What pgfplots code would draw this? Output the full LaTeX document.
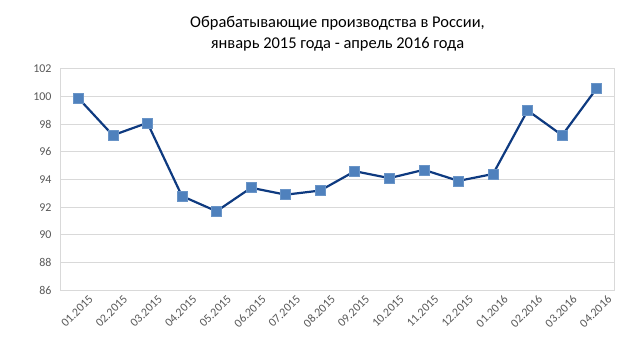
\documentclass[border=0pt]{standalone}
\usepackage{pgfplots}
\pgfplotsset{compat=1.18}
\usepackage{fontspec}
\setmainfont{Carlito}
\definecolor{gridc}{HTML}{D9D9D9}
\definecolor{tickc}{HTML}{595959}
\definecolor{linec}{HTML}{0E3A80}
\definecolor{markc}{HTML}{4F81BD}
\begin{document}
\begin{tikzpicture}
\path[use as bounding box] (-61bp,-73bp) rectangle (579bp,290bp);
\begin{axis}[
  at={(0,0)}, anchor=south west,
  scale only axis, width=553bp, height=221bp,
  xmin=-0.5, xmax=15.5, ymin=86, ymax=102,
  ytick={86,88,...,102},
  xtick={0,...,15},
  xticklabels={01.2015,02.2015,03.2015,04.2015,05.2015,06.2015,07.2015,08.2015,09.2015,10.2015,11.2015,12.2015,01.2016,02.2016,03.2016,04.2016},
  x tick label style={rotate=45, anchor=north east, font=\fontsize{12}{14}\selectfont, text=tickc, inner sep=1pt, xshift=5bp, yshift=-9bp},
  y tick label style={font=\fontsize{12}{14}\selectfont, text=tickc, xshift=-6bp},
  /pgf/number format/assume math mode=true,
  major tick length=0pt,
  ymajorgrids, grid style={gridc, line width=1bp},
  axis line style={gridc, line width=1bp},
  title style={align=center, font=\fontsize{16.5}{21}\selectfont, yshift=8bp},
  title={Обрабатывающие производства в России,\\январь 2015 года - апрель 2016 года},
]
\addplot[linec, line width=2.2bp, mark=square*, mark size=5bp, mark options={fill=markc, draw=markc!85!white, line width=0.6bp}]
coordinates {
(0,99.9) (1,97.2) (2,98.1) (3,92.8) (4,91.7) (5,93.4) (6,92.9) (7,93.2)
(8,94.6) (9,94.1) (10,94.7) (11,93.9) (12,94.4) (13,99.0) (14,97.2) (15,100.6)
};
\end{axis}
\end{tikzpicture}
\end{document}
